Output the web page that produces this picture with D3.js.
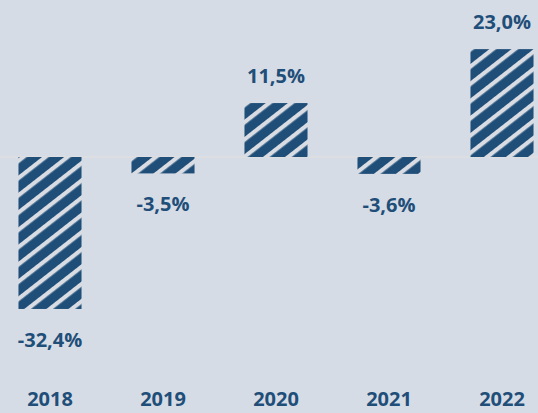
<!DOCTYPE html>
<html>
<head>
<meta charset="utf-8">
<script src="https://cdn.jsdelivr.net/npm/d3@7"></script>
<style>
  html, body { margin: 0; padding: 0; background: #d6dce5; }
  svg { display: block; }
</style>
</head>
<body>
<svg id="chart" width="538" height="413"></svg>
<script>
// Yearly change, in percent
const years = ["2018", "2019", "2020", "2021", "2022"];
const changes = [-32.4, -3.5, 11.5, -3.6, 23.0];
const valueLabels = ["-32,4%", "-3,5%", "11,5%", "-3,6%", "23,0%"];

const W = 538, H = 413;
const FONT = "'Open Sans', Lato, sans-serif";
const INK = "#1f4e79";
const svg = d3.select("#chart");

const x = d3.scaleBand()
  .domain(years)
  .range([-6.5, 558.5])
  .paddingInner(0.442)
  .paddingOuter(0.221);

const y = d3.scaleLinear()
  .domain([-35, 25])
  .range([157 + 35 * 4.69, 157 - 25 * 4.69]);

// Diagonal hatch fill
const defs = svg.append("defs");
const pat = defs.append("pattern")
  .attr("id", "hatch")
  .attr("patternUnits", "userSpaceOnUse")
  .attr("width", 13.6)
  .attr("height", 20)
  .attr("patternTransform", "rotate(52)");
pat.append("rect").attr("width", 13.6).attr("height", 20).attr("fill", INK);
pat.append("rect").attr("x", 0).attr("width", 4.2).attr("height", 20).attr("fill", "#d9dde3");

// Zero line
svg.append("line")
  .attr("x1", 0).attr("x2", W)
  .attr("y1", y(0)).attr("y2", y(0))
  .attr("stroke", "#dfdfdf")
  .attr("stroke-width", 1.5);

const data = years.map((yr, i) => ({ year: yr, value: changes[i], label: valueLabels[i] }));

svg.append("g").selectAll("rect")
  .data(data)
  .join("rect")
  .attr("x", d => x(d.year))
  .attr("width", x.bandwidth())
  .attr("y", d => y(Math.max(0, d.value)))
  .attr("height", d => Math.abs(y(d.value) - y(0)))
  .attr("fill", "url(#hatch)");

// Value labels: above positive bars, below negative ones
svg.append("g").selectAll("text")
  .data(data)
  .join("text")
  .attr("x", d => x(d.year) + x.bandwidth() / 2)
  .attr("y", d => d.value >= 0 ? y(d.value) - 20 : y(d.value) + 38)
  .attr("text-anchor", "middle")
  .style("font-family", FONT)
  .style("font-weight", 700)
  .style("font-size", "20px")
  .style("fill", INK)
  .text(d => d.label);

// Category axis labels
const axis = d3.axisBottom(x).tickSize(0).tickPadding(0);
const gAxis = svg.append("g")
  .attr("transform", `translate(0, ${H - 22})`)
  .call(axis);
gAxis.select(".domain").remove();
gAxis.selectAll("text")
  .attr("dy", null)
  .attr("y", 15)
  .style("font-family", FONT)
  .style("font-weight", 700)
  .style("font-size", "20px")
  .style("fill", INK);
</script>
</body>
</html>
